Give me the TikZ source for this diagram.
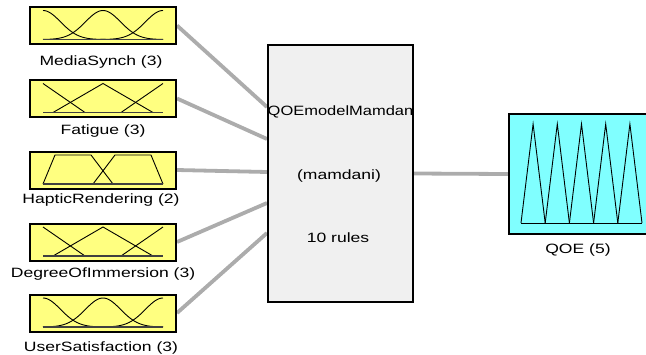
\documentclass[tikz,border=0pt]{standalone}
\usepackage{fontspec}
\setmainfont{Liberation Sans}
\usetikzlibrary{backgrounds}
\definecolor{mfyellow}{RGB}{255,255,128}
\definecolor{mfcyan}{RGB}{128,255,255}
\definecolor{sysgray}{RGB}{240,240,240}
\definecolor{conngray}{RGB}{172,172,172}
\newcommand\hs[1]{\scalebox{1.3}[1]{#1}}
\newcommand\hst[1]{\scalebox{1.22}[1]{#1}}
\newcommand\gaussset{%
  \draw[mf] plot[domain=-60:60,samples=61,smooth] (\x,{14-29*exp(-((\x+60)*(\x+60))/620)});
  \draw[mf] plot[domain=-60:60,samples=61,smooth] (\x,{14-29*exp(-((\x)*(\x))/620)});
  \draw[mf] plot[domain=-60:60,samples=61,smooth] (\x,{14-29*exp(-((\x-60)*(\x-60))/620)});
  \draw[mfbase] (-60,14) -- (60,14);}
\newcommand\triset{%
  \draw[mf] (-60,-15) -- (-18,14);
  \draw[mf] (-50,14) -- (0,-15) -- (50,14);
  \draw[mf] (18,14) -- (60,-15);
  \draw[mfbase] (-60,14) -- (60,14);}
\newcommand\trapset{%
  \draw[mf] (-60,14) -- (-48,-15) -- (-12,-15) -- (10,14);
  \draw[mf] (-10,14) -- (12,-15) -- (48,-15) -- (60,14);
  \draw[mfbase] (-60,14) -- (60,14);}
\begin{document}
\begin{tikzpicture}[x=1pt,y=-1pt,
  inbox/.style={draw=black, line width=2pt, fill=mfyellow, minimum width=146pt, minimum height=37pt, inner sep=0pt},
  sysbox/.style={draw=black, line width=2pt, fill=sysgray, minimum width=145pt, minimum height=257pt, inner sep=0pt},
  outbox/.style={draw=black, line width=2pt, fill=mfcyan, minimum width=138pt, minimum height=120pt, inner sep=0pt},
  lbl/.style={font=\fontsize{13.5}{15}\selectfont, anchor=base, inner sep=0pt},
  conn/.style={draw=conngray, line width=3.8pt},
  mf/.style={draw=black, line width=0.9pt},
  mfbase/.style={draw=black!75, line width=1.4pt}]
\useasboundingbox (0,0) rectangle (646,354);
\clip (0,0) rectangle (646,354);
% input boxes
\node[inbox] (ms) at (103,25.5) {};
\node[inbox] (fa) at (103,98.5) {};
\node[inbox] (hr) at (103,170) {};
\node[inbox] (di) at (103,242) {};
\node[inbox] (us) at (103,313) {};
\begin{scope}[shift={(ms.center)}]\gaussset\end{scope}
\begin{scope}[shift={(fa.center)}]\triset\end{scope}
\begin{scope}[shift={(hr.center)}]\trapset\end{scope}
\begin{scope}[shift={(di.center)}]\triset\end{scope}
\begin{scope}[shift={(us.center)}]\gaussset\end{scope}
\node[lbl] (msl) at (101,65) {\hs{MediaSynch (3)}};
\node[lbl] (fal) at (103,134) {\hs{Fatigue (3)}};
\node[lbl] (hrl) at (101,203) {\hs{HapticRendering (2)}};
\node[lbl] (dil) at (103,277) {\hs{DegreeOfImmersion (3)}};
\node[lbl] (usl) at (101,351) {\hs{UserSatisfaction (3)}};
% system box
\node[sysbox] (sys) at (340.5,173.5) {};
\node[lbl] (t1) at (340.5,115) {\hst{QOEmodelMamdan}};
\node[lbl] (t2) at (339,179) {\hs{(mamdani)}};
\node[lbl] (t3) at (338,242) {\hs{10 rules}};
% output box
\node[outbox] (qoe) at (578,174) {};
\foreach \k in {0,...,4} {
  \draw[mf] ({521+24.2*\k},223) -- ({533.1+24.2*\k},124) -- ({545.2+24.2*\k},223);
}
\draw[mf] (521,223) -- (642,223);
\node[lbl] (qoel) at (578,253) {\hs{QOE (5)}};
% connectors
\coordinate (s1) at ([yshift=66.5pt]sys.west);
\coordinate (s2) at ([yshift=34.5pt]sys.west);
\coordinate (s3) at ([yshift=1.5pt]sys.west);
\coordinate (s4) at ([yshift=-29.5pt]sys.west);
\coordinate (s5) at ([yshift=-59.5pt]sys.west);
\begin{pgfonlayer}{background}
\draw[conn] (ms.east) -- (s1);
\draw[conn] (fa.east) -- (s2);
\draw[conn] (hr.east) -- (s3);
\draw[conn] (di.east) -- (s4);
\draw[conn] (us.east) -- (s5);
\draw[conn] (sys.east) -- (qoe.west);
\end{pgfonlayer}
\end{tikzpicture}
\end{document}
